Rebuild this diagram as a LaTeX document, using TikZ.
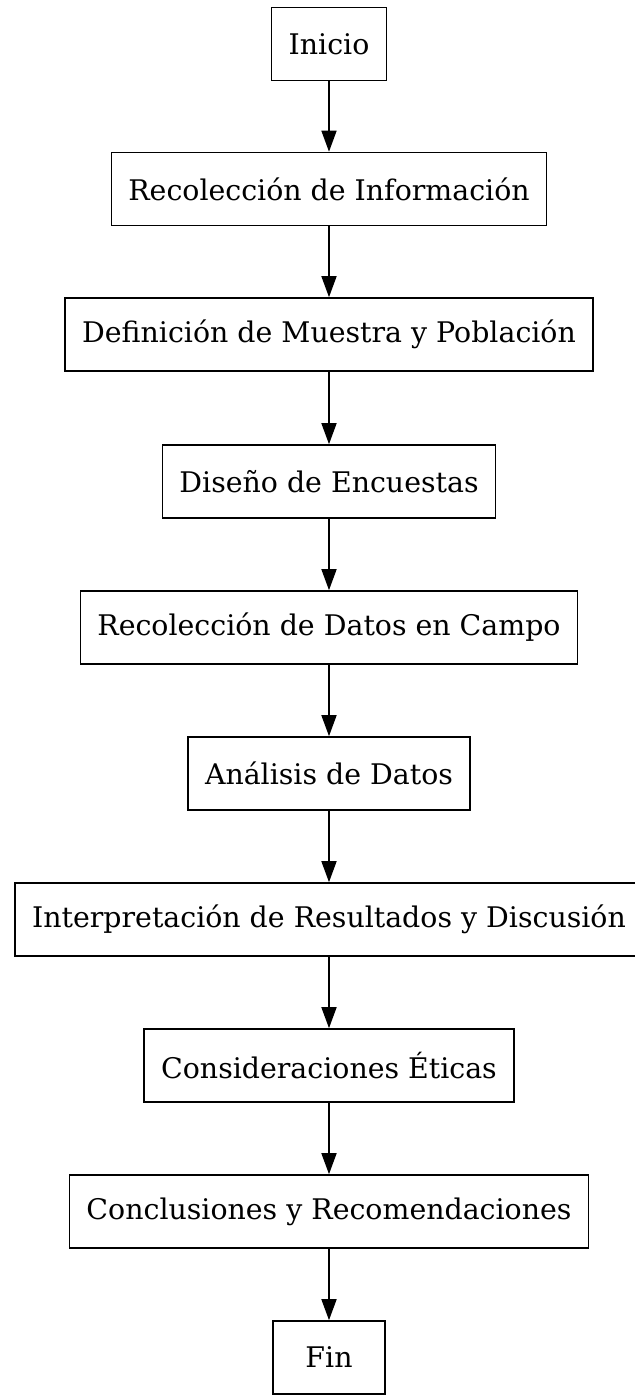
\documentclass[tikz,border=0pt]{standalone}
\usepackage{fontspec}
\setmainfont{DejaVu Serif}
\usepackage{tikz}
\usetikzlibrary{arrows.meta, positioning}

\begin{document}
\begin{tikzpicture}[x=0.5pt, y=0.5pt,
    paso/.style={rectangle, draw=black, line width=0.8pt, inner xsep=8.5pt, minimum height=36.5pt, minimum width=56pt, font=\fontsize{14.2}{17}\selectfont},
    flecha/.style={-{Triangle[length=10.5pt, width=7.5pt]}, line width=0.8pt}]
    \useasboundingbox (0,0) rectangle (635,-1396);
    \node[paso] (inicio) at (329, -44) {Inicio};
    \node[paso] (info) at (329, -189) {Recolección de Información};
    \node[paso] (muestra) at (329, -334.5) {Definición de Muestra y Población};
    \node[paso] (encuestas) at (329, -481.5) {Diseño de Encuestas};
    \node[paso] (campo) at (329, -627.5) {Recolección de Datos en Campo};
    \node[paso] (analisis) at (329, -773.5) {Análisis de Datos};
    \node[paso] (interp) at (329, -919.5) {Interpretación de Resultados y Discusión};
    \node[paso] (etica) at (329, -1065.5) {Consideraciones Éticas};
    \node[paso] (concl) at (329, -1211.5) {Conclusiones y Recomendaciones};
    \node[paso] (fin) at (329, -1357.5) {Fin};

    \draw[flecha] (inicio) -- (info);
    \draw[flecha] (info) -- (muestra);
    \draw[flecha] (muestra) -- (encuestas);
    \draw[flecha] (encuestas) -- (campo);
    \draw[flecha] (campo) -- (analisis);
    \draw[flecha] (analisis) -- (interp);
    \draw[flecha] (interp) -- (etica);
    \draw[flecha] (etica) -- (concl);
    \draw[flecha] (concl) -- (fin);
\end{tikzpicture}
\end{document}
